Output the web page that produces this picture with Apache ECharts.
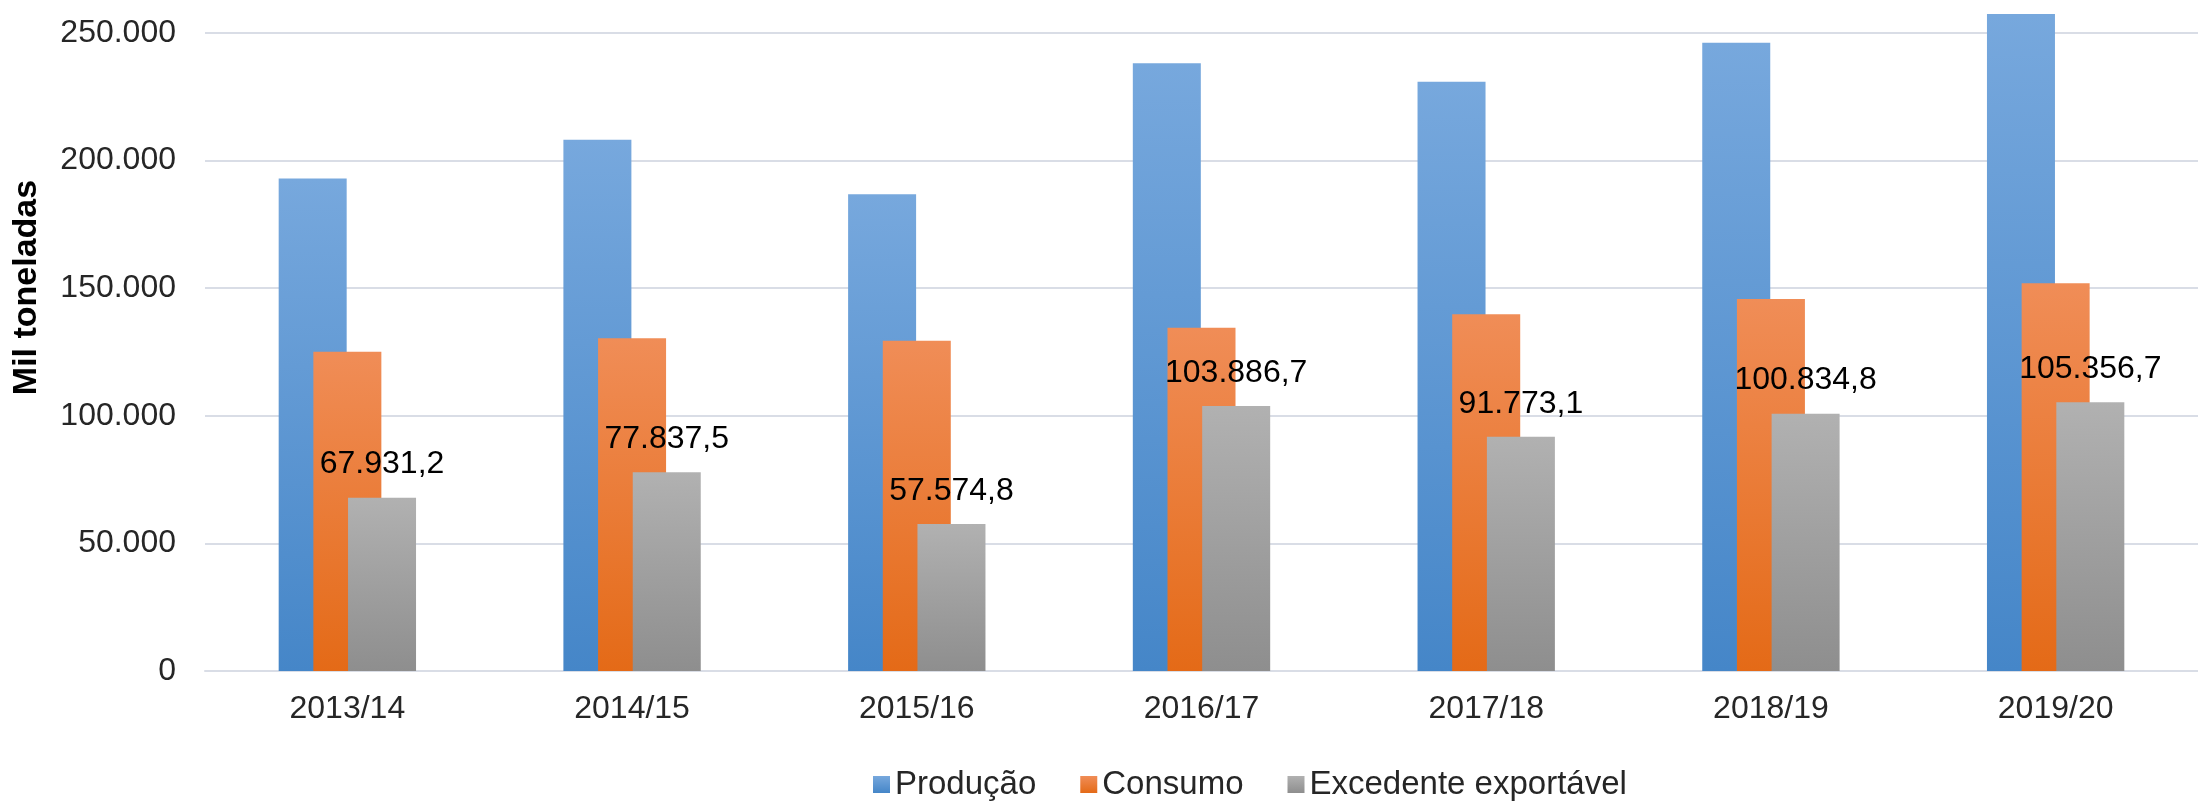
<!DOCTYPE html>
<html>
<head>
<meta charset="utf-8">
<script src="https://cdn.jsdelivr.net/npm/echarts@6/dist/echarts.min.js"></script>
<style>
html,body{margin:0;padding:0;background:#fff;}
#c{width:2198px;height:802px;}
</style>
</head>
<body>
<div id="c"></div>
<script>
const categories = ['2013/14','2014/15','2015/16','2016/17','2017/18','2018/19','2019/20'];
const producao = [193000, 208200, 186800, 238100, 230900, 246200, 257400];
const consumo = [125100, 130400, 129400, 134500, 139800, 145800, 151900];
const excedente = [67931.2, 77837.5, 57574.8, 103886.7, 91773.1, 100834.8, 105356.7];
const seriesNames = ['Produção', 'Consumo', 'Excedente exportável'];
const yTicks = {min: 0, max: 250000, interval: 50000};

const FONT = "'Liberation Sans', Arial, sans-serif";
function thousands(s){ return s.replace(/\B(?=(\d{3})+(?!\d))/g, '.'); }
function fmtInt(v){ return thousands(String(Math.round(v))); }
function fmtDec(v){ const p = v.toFixed(1).split('.'); return thousands(p[0]) + ',' + p[1]; }
function grad(top, bottom){
  return new echarts.graphic.LinearGradient(0,0,0,1,[{offset:0,color:top},{offset:1,color:bottom}]);
}

const chart = echarts.init(document.getElementById('c'), null, {renderer:'canvas'});
chart.setOption({
  animation: false,
  backgroundColor: '#ffffff',
  textStyle: {fontFamily: FONT},
  grid: {left: 205, right: -3, top: 33, bottom: 131},
  legend: {
    left: 868, top: 763,
    itemWidth: 17, itemHeight: 17, itemGap: 44,
    icon: 'rect',
    textStyle: {fontSize: 33, color: '#262626', fontFamily: FONT},
    data: seriesNames
  },
  xAxis: {
    type: 'category',
    data: categories,
    axisTick: {show: false},
    axisLine: {lineStyle: {color: '#d9dde6', width: 2}},
    axisLabel: {fontSize: 32, color: '#262626', margin: 22, fontFamily: FONT}
  },
  yAxis: {
    type: 'value',
    min: yTicks.min, max: yTicks.max, interval: yTicks.interval,
    name: 'Mil toneladas',
    nameLocation: 'middle',
    nameGap: 161,
    nameTextStyle: {fontSize: 34, fontWeight: 'bold', color: '#000', fontFamily: FONT, padding: [0,0,0,129]},
    axisLine: {show: false},
    axisTick: {show: false},
    axisLabel: {fontSize: 32, color: '#262626', margin: 29, fontFamily: FONT, formatter: fmtInt},
    splitLine: {lineStyle: {color: '#d9dde6', width: 2}}
  },
  series: [
    {
      name: seriesNames[0], type: 'bar', data: producao,
      barWidth: 68, barGap: '-49%', clip: false,
      itemStyle: {color: grad('#77a8dd', '#4586c8')}
    },
    {
      name: seriesNames[1], type: 'bar', data: consumo,
      barWidth: 68, barGap: '-49%',
      itemStyle: {color: grad('#f08d57', '#e46a17')}
    },
    {
      name: seriesNames[2], type: 'bar', data: excedente,
      barWidth: 68, barGap: '-49%',
      itemStyle: {color: grad('#b1b1b1', '#8e8e8e')},
      label: {
        show: true, position: 'top', distance: 17,
        fontSize: 32, color: '#000', fontFamily: FONT,
        formatter: p => fmtDec(p.value)
      }
    }
  ]
});
</script>
</body>
</html>
